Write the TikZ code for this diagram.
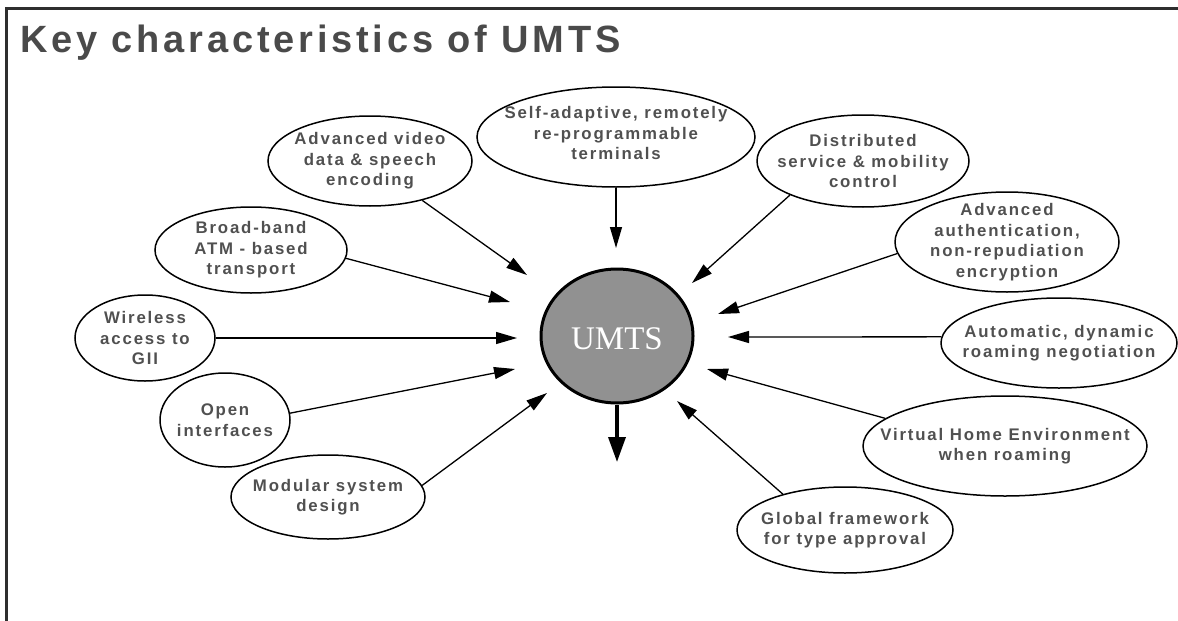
\documentclass[tikz,border=0pt]{standalone}
\usepackage{fontspec}
\usetikzlibrary{shapes.geometric,arrows.meta}
\newfontfamily\lblfont[LetterSpace=11]{Liberation Sans}
\newfontfamily\ttlfont[LetterSpace=10]{Liberation Sans}
\newfontfamily\hubfont{Liberation Serif}
\definecolor{txtgray}{HTML}{505050}
\definecolor{ttlgray}{HTML}{4A4A4A}
\definecolor{hubgray}{HTML}{919191}
\definecolor{framegray}{HTML}{2E2E2E}
\begin{document}
\begin{tikzpicture}[x=1pt,y=-1pt,
  feature/.style={ellipse, draw, line width=1.5pt, inner sep=0pt},
  lbl/.style={align=center, inner sep=0pt, text=txtgray,
    font=\lblfont\bfseries\fontsize{16.8}{20.5}\selectfont},
  link/.style={line width=1.3pt, -{Triangle[length=21pt,width=12pt]}},
]
\useasboundingbox (0,0) rectangle (1178,621);

% frame (top and left edges)
\draw[line width=2.2pt, framegray] (6.5,621) -- (6.5,8.5) -- (1178,8.5);

% title
\node[anchor=base west, inner sep=0pt, text=ttlgray,
  font=\ttlfont\bfseries\fontsize{38}{40}\selectfont] (title) at (20,52)
  {Key characteristics of UMTS};

% central hub
\node[ellipse, draw, line width=3pt, fill=hubgray, inner sep=0pt,
  minimum width=152pt, minimum height=134pt] (umts) at (617,336) {};
\node[inner sep=0pt, text=white, font=\hubfont\fontsize{33}{36}\selectfont]
  (umtsT) at (617,339) {UMTS};

% surrounding characteristics
\node[feature, minimum width=204pt, minimum height=90pt] (vid) at (370,161) {};
\node[lbl] (vidT) at (vid) {Advanced video\\data \& speech\\encoding};

\node[feature, minimum width=278pt, minimum height=100pt] (sel) at (616,137) {};
\node[lbl] (selT) at ([yshift=4pt]sel) {Self-adaptive, remotely\\re-programmable\\terminals};

\node[feature, minimum width=212pt, minimum height=92pt] (dis) at (863,161) {};
\node[lbl] (disT) at (dis) {Distributed\\service \& mobility\\control};

\node[feature, minimum width=224pt, minimum height=100pt] (aut) at (1007,242) {};
\node[lbl] (autT) at (aut) {Advanced\\authentication,\\non-repudiation\\encryption};

\node[feature, minimum width=236pt, minimum height=90pt] (ato) at (1059,343) {};
\node[lbl] (atoT) at (ato) {Automatic, dynamic\\roaming negotiation};

\node[feature, minimum width=284pt, minimum height=100pt] (vir) at (1005,446) {};
\node[lbl] (virT) at (vir) {Virtual Home Environment\\when roaming};

\node[feature, minimum width=216pt, minimum height=86pt] (glo) at (845,530) {};
\node[lbl] (gloT) at (glo) {Global framework\\for type approval};

\node[feature, minimum width=192pt, minimum height=86pt] (bro) at (251,250) {};
\node[lbl] (broT) at (bro) {Broad-band\\ATM - based\\transport};

\node[feature, minimum width=140pt, minimum height=86pt] (wir) at (145,338) {};
\node[lbl] (wirT) at (wir) {Wireless\\access to\\GII};

\node[feature, minimum width=130pt, minimum height=94pt] (ope) at (225,420) {};
\node[lbl] (opeT) at (ope) {Open\\interfaces};

\node[feature, minimum width=194pt, minimum height=84pt] (mod) at (328,497) {};
\node[lbl] (modT) at (mod) {Modular system\\design};

% arrow tips around the hub
\coordinate (tVid) at (527,275);
\coordinate (tBro) at (510,302);
\coordinate (tWir) at (517,338);
\coordinate (tOpe) at (515,369);
\coordinate (tMod) at (547,393);
\coordinate (tSel) at (616,248);
\coordinate (tDis) at (692,283);
\coordinate (tAut) at (718,314);
\coordinate (tAto) at (728,337);
\coordinate (tVir) at (707,369);
\coordinate (tGlo) at (677,401);
\coordinate (tOut) at (617,462);

% connectors
\draw[link] (vid.-37) -- (tVid);
\draw[link] (bro.-5) -- (tBro);
\draw[link] (wir.east) -- (tWir);
\draw[link] (ope.6) -- (tOpe);
\draw[link] (mod.7) -- (tMod);
\draw[link] (sel.south) -- (tSel);
\draw[link] (dis.205) -- (tDis);
\draw[link] (aut.186) -- (tAut);
\draw[link] (ato.177) -- (tAto);
\draw[link] (vir.167) -- (tVir);
\draw[link] (glo.150) -- (tGlo);
\draw[line width=3.5pt, -{Triangle[length=25pt,width=17pt]}] (umts.south) -- (tOut);
\end{tikzpicture}
\end{document}
